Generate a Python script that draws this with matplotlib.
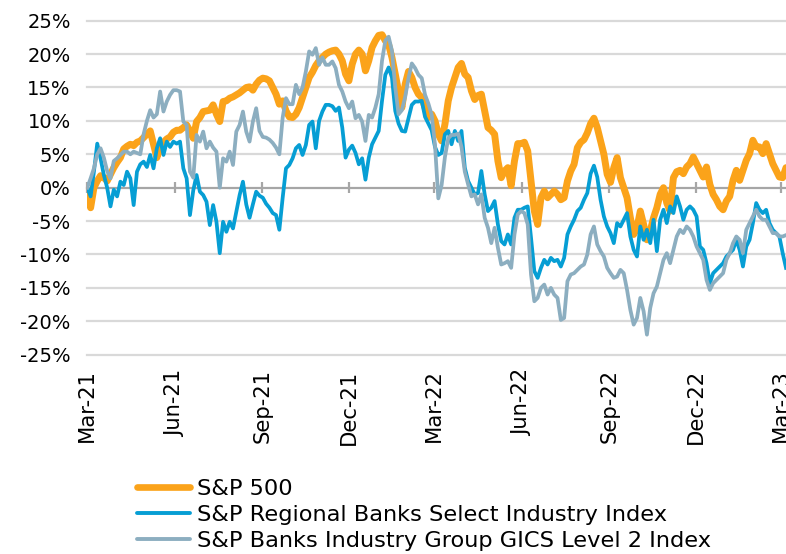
import matplotlib
matplotlib.use("Agg")
import matplotlib.pyplot as plt
from matplotlib.lines import Line2D
import pandas as pd

plt.rcParams['font.family'] = ['DejaVu Sans']

# ---- data (cumulative % change since start) ----
start_date = "2021-03-01"
end_date = "2023-03-06"

sp500 = [
    -1.0, -3.0, 0.0, 1.0, 1.8, 1.5, 1.0, 2.0, 3.0, 3.8, 4.5, 5.8, 6.2, 6.5,
    6.3, 6.8, 7.0, 7.5, 8.0, 8.5, 6.5, 4.5, 6.0, 6.8, 7.3, 7.6, 8.3, 8.6,
    8.6, 9.0, 9.4, 8.5, 7.4, 9.9, 10.5, 11.4, 11.5, 11.6, 12.4, 11.0, 9.9, 12.9,
    13.0, 13.4, 13.6, 13.9, 14.2, 14.6, 15.0, 15.1, 14.6, 15.5, 16.1, 16.4, 16.3, 16.0, 15.0,
    14.0, 12.5, 13.0, 11.5, 10.6, 10.5, 11.0, 12.0, 13.5, 15.0, 16.5, 17.3, 18.3, 19.0,
    19.5, 20.0, 20.3, 20.5, 20.6, 20.0, 19.0, 17.0, 16.0, 18.5, 20.0, 20.6, 20.0, 17.5, 19.0,
    21.0, 22.0, 22.8, 22.9, 22.0, 21.4, 19.5, 17.0, 14.4, 12.0, 15.5, 17.4, 16.5, 15.0,
    14.0, 13.5, 12.0, 10.5, 11.0, 10.0, 8.0, 7.0, 9.5, 13.0, 15.0, 16.5, 18.0, 18.6, 17.0,
    16.5, 14.5, 13.2, 13.8, 14.0, 11.5, 9.0, 8.6, 8.0, 4.0, 1.5, 2.5, 3.0, 0.3,
    4.0, 6.6, 6.6, 6.8, 5.5, 1.0, -3.5, -5.5, -1.5, -0.5, -1.5, -1.0, -0.5, -1.0, -1.8,
    -1.5, 1.0, 2.5, 3.5, 6.0, 6.8, 7.2, 8.2, 9.6, 10.4, 9.0, 7.0, 5.0, 2.0,
    0.8, 3.0, 4.5, 1.5, 0.0, -1.5, -4.5, -7.0, -6.0, -3.5, -5.5, -7.8, -6.5, -4.5, -3.0,
    -1.0, 0.0, -2.3, -3.5, 1.5, 2.4, 2.6, 2.1, 3.1, 3.6, 4.6, 3.6, 2.6, 1.6, 3.1,
    0.5, -1.0, -1.8, -2.8, -3.3, -2.0, -1.3, 1.1, 2.6, 1.1, 2.6, 4.1, 5.1, 7.1,
    6.1, 6.1, 5.1, 6.6, 5.1, 3.6, 2.6, 1.6, 1.5, 3.0,
]

regional_banks = [
    0.0, -1.3, 2.4, 6.6, 4.4, 1.9, 0.0, -2.8, -0.3, -1.3, 0.9, 0.4, 2.4, 1.4,
    -2.6, 2.4, 3.5, 3.9, 3.1, 4.9, 2.9, 5.9, 7.4, 4.9, 6.9, 6.1, 6.9, 6.6,
    6.9, 2.9, 1.4, -4.1, -0.4, 1.9, -0.6, -1.1, -2.1, -5.6, -2.6, -5.1, -9.8, -5.1,
    -6.6, -5.1, -6.1, -3.6, -1.1, 0.9, -2.5, -4.5, -2.5, -0.6, -1.2, -1.5, -2.4, -3.0, -3.8,
    -4.1, -6.3, -1.5, 2.9, 3.4, 4.4, 5.9, 6.4, 4.9, 6.4, 9.4, 9.9, 5.9, 10.0,
    11.4, 12.4, 12.4, 12.2, 11.5, 12.0, 9.0, 4.5, 5.7, 6.3, 5.2, 3.5, 4.4, 1.2, 4.5,
    6.5, 7.5, 8.5, 13.0, 16.9, 18.0, 16.5, 11.5, 9.6, 8.5, 8.4, 10.4, 12.4, 12.9,
    12.9, 13.0, 10.6, 9.6, 8.6, 6.1, 4.9, 5.2, 8.0, 8.5, 6.5, 8.5, 7.0, 8.5, 3.0,
    1.0, 0.0, -1.0, -0.8, 2.5, -1.0, -3.5, -3.0, -2.0, -5.5, -8.0, -8.5, -7.0, -8.5,
    -4.5, -3.3, -3.3, -3.0, -2.8, -7.5, -12.5, -13.5, -12.0, -10.8, -11.5, -10.5, -11.0, -10.8, -11.8,
    -10.5, -7.0, -5.8, -4.8, -3.5, -3.0, -1.8, -0.8, 2.1, 3.3, 1.6, -1.8, -4.3, -5.8,
    -6.8, -8.3, -5.3, -5.8, -4.8, -3.8, -7.3, -9.3, -10.3, -5.8, -7.8, -6.3, -8.3, -4.8, -9.5,
    -4.8, -3.3, -5.3, -2.8, -3.8, -1.3, -2.8, -4.8, -3.3, -2.8, -3.3, -4.3, -8.8, -9.3, -11.3,
    -14.3, -12.8, -12.3, -11.8, -11.3, -10.3, -9.8, -9.3, -7.8, -9.3, -11.8, -8.8, -7.8, -5.3,
    -2.3, -3.3, -3.8, -3.3, -5.3, -6.3, -6.8, -7.3, -9.8, -12.0,
]

banks_gics = [
    0.0, 1.4, 2.9, 5.0, 5.9, 4.5, 2.5, 1.4, 4.0, 4.4, 4.9, 5.4, 5.4, 5.0,
    5.4, 5.2, 5.0, 8.0, 10.0, 11.6, 10.5, 11.0, 14.4, 11.4, 12.9, 13.9, 14.6, 14.6,
    14.4, 9.9, 9.4, 2.4, 1.5, 7.9, 6.9, 8.4, 5.9, 6.9, 6.0, 5.4, 0.0, 4.4,
    3.9, 5.4, 3.4, 8.4, 9.4, 11.4, 8.4, 6.9, 9.9, 11.9, 8.5, 7.6, 7.5, 7.2, 6.7,
    6.0, 5.0, 10.5, 13.4, 12.5, 12.5, 15.4, 14.0, 15.0, 17.4, 20.4, 19.9, 20.9, 18.4,
    19.5, 18.4, 18.4, 18.9, 17.9, 15.4, 14.4, 12.9, 11.9, 12.9, 10.4, 10.9, 9.9, 7.0, 10.9,
    10.5, 12.0, 14.0, 19.0, 22.0, 22.6, 20.5, 15.0, 11.0, 11.6, 13.6, 16.4, 18.6, 17.9,
    16.9, 16.4, 13.9, 12.6, 10.9, 6.4, -1.6, 0.4, 4.6, 7.4, 7.9, 7.9, 8.1, 6.1, 2.4,
    0.5, -1.3, -1.0, -2.5, -1.0, -4.5, -6.0, -8.3, -6.0, -9.0, -11.5, -11.3, -11.0, -12.0,
    -7.0, -4.0, -3.5, -3.8, -5.5, -13.0, -17.0, -16.5, -15.0, -14.5, -16.0, -15.0, -16.0, -16.5, -19.8,
    -19.5, -14.0, -13.0, -12.8, -12.3, -11.8, -11.5, -10.0, -7.0, -5.8, -8.5, -9.5, -10.3, -12.0,
    -12.8, -13.5, -13.3, -12.3, -12.8, -15.3, -18.3, -20.5, -19.5, -16.5, -18.5, -22.0, -18.0, -15.8, -14.8,
    -12.8, -10.8, -9.8, -11.3, -9.3, -7.3, -6.3, -6.8, -5.8, -6.3, -7.3, -8.8, -9.8, -10.8, -13.8,
    -15.3, -14.3, -13.8, -13.3, -12.8, -10.8, -9.8, -8.3, -7.3, -7.8, -9.8, -6.3, -5.3, -4.3,
    -3.3, -4.3, -4.8, -4.8, -5.8, -6.8, -6.8, -7.3, -7.3, -7.1,
]

series_labels = [
    "S&P 500",
    "S&P Regional Banks Select Industry Index",
    "S&P Banks Industry Group GICS Level 2 Index",
]
x_tick_labels = ["Mar-21", "Jun-21", "Sep-21", "Dec-21", "Mar-22",
                 "Jun-22", "Sep-22", "Dec-22", "Mar-23"]
y_ticks = [25, 20, 15, 10, 5, 0, -5, -10, -15, -20, -25]

n = min(len(sp500), len(regional_banks), len(banks_gics))
dates = pd.date_range(start_date, end_date, periods=n)
tick_dates = pd.to_datetime(x_tick_labels, format="%b-%y")

# ---- style ----
c_orange = "#FBA31A"
c_blue = "#069ED4"
c_gray = "#8CAEC0"
c_grid = "#D9D9D9"
c_zero = "#A6A6A6"

W, H = 786, 554
fig = plt.figure(figsize=(W / 100, H / 100), dpi=100)
left_px, right_px, top_px, bot_px = 87.3, 786, 20.7, 354.7
ax = fig.add_axes([left_px / W, 1 - bot_px / H, (right_px - left_px) / W,
                   (bot_px - top_px) / H])

for v in y_ticks:
    if v == 0:
        continue
    ax.axhline(v, color=c_grid, lw=1.6, zorder=0, clip_on=False)
ax.axhline(0, color=c_zero, lw=1.6, zorder=1, clip_on=False)
ax.vlines(tick_dates, -0.85, 0.85, color=c_zero, lw=1.6, zorder=1, clip_on=False)

ax.plot(dates, sp500[:n], color=c_orange, lw=5.0, zorder=2,
        solid_joinstyle="round", solid_capstyle="round")
ax.plot(dates, regional_banks[:n], color=c_blue, lw=2.7, zorder=3,
        solid_joinstyle="round")
ax.plot(dates, banks_gics[:n], color=c_gray, lw=2.7, zorder=4,
        solid_joinstyle="round")

ax.set_xlim(dates[0], dates[-1])
ax.set_ylim(-25, 25)
ax.set_yticks(y_ticks)
ax.set_yticklabels([f"{v}%" for v in y_ticks])
ax.set_xticks(tick_dates)
ax.set_xticklabels(x_tick_labels, rotation=90)
ax.tick_params(axis="y", length=0, pad=12, labelsize=14, labelcolor="#000000")
ax.tick_params(axis="x", length=0, pad=10.5, labelsize=15.2, labelcolor="#000000")
for s in ax.spines.values():
    s.set_visible(False)

handles = [
    Line2D([], [], color=c_orange, lw=4.8, solid_capstyle="round"),
    Line2D([], [], color=c_blue, lw=2.8, solid_capstyle="round"),
    Line2D([], [], color=c_gray, lw=2.8, solid_capstyle="round"),
]
fig.legend(handles, series_labels, loc="upper left",
           bbox_to_anchor=(137 / W, 1 - 479 / H), frameon=False,
           fontsize=16.2, handlelength=2.35, handletextpad=0.3,
           labelspacing=0.27, borderpad=0, borderaxespad=0)

fig.savefig("out.png", dpi=100)
